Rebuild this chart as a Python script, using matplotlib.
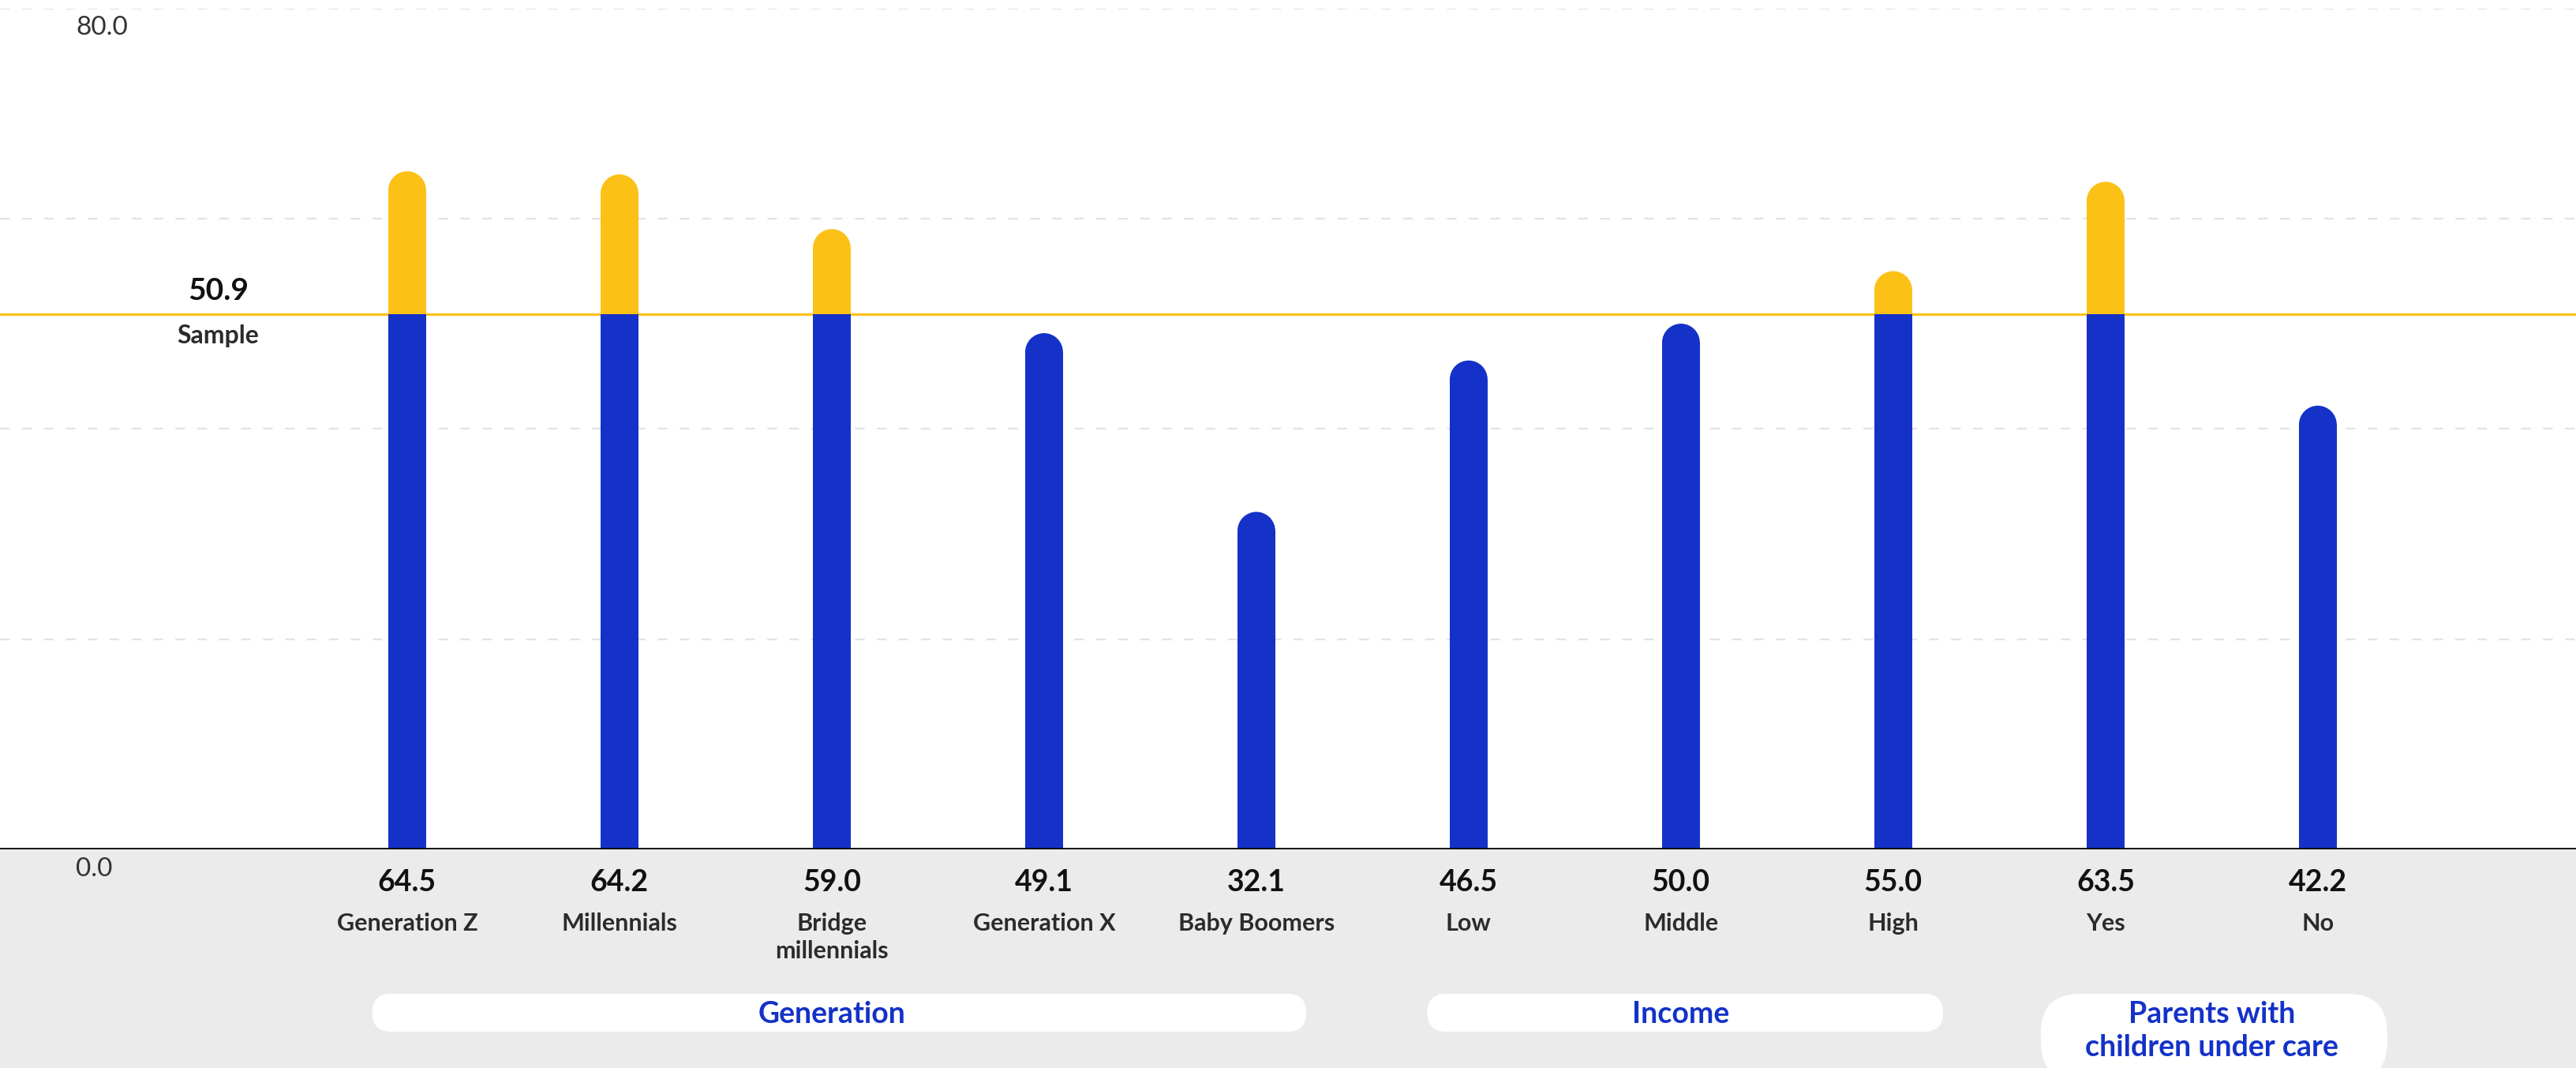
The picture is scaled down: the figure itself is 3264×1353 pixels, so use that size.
import numpy as np
import matplotlib
matplotlib.use("Agg")
import matplotlib.pyplot as plt
from matplotlib.patches import Ellipse, FancyBboxPatch, Rectangle

# Data
categories = ["Generation Z", "Millennials", "Bridge\nmillennials", "Generation X", "Baby Boomers",
              "Low", "Middle", "High", "Yes", "No"]
values = [64.5, 64.2, 59.0, 49.1, 32.1, 46.5, 50.0, 55.0, 63.5, 42.2]
sampleValue = 50.9
sampleLabel = "Sample"
groupNames = ["Generation", "Income", "Parents with\nchildren under care"]
groupFirst = [0, 5, 8]
groupLast = [4, 7, 9]
yTickValues = [0, 80]
gridValues = [20, 40, 60, 80]

# Style
blue = "#1432C8"
yellow = "#FCC117"
greyBg = "#EBEBEB"
fontName = "Lato"
W, H, dpi = 3264, 1353, 100

fig = plt.figure(figsize=(W / dpi, H / dpi), dpi=dpi)
axBottom = (H - 1076) / H
axTop = (H - 10.5) / H
ax = fig.add_axes([0, axBottom, 1, axTop - axBottom])
ax.set_xlim(-1.918, 10.216)
ax.set_ylim(0, 80)

# grey band under the plot
fig.patches.append(Rectangle((0, 0), 1, axBottom, transform=fig.transFigure,
                             facecolor=greyBg, edgecolor="none", zorder=0))

# Grid
for g in gridValues:
  ax.axhline(g, color="#E3E3E3", linewidth=1.6, dashes=(5.5, 7), zorder=0)

# Sample line
ax.axhline(sampleValue, color=yellow, linewidth=2.2, zorder=1)

# Bars with rounded tops
barWidth = 0.178
x = np.arange(len(values))
pxPerX = ax.transData.transform((1, 0))[0] - ax.transData.transform((0, 0))[0]
pxPerY = ax.transData.transform((0, 1))[1] - ax.transData.transform((0, 0))[1]
capH = barWidth / 2 * pxPerX / pxPerY
for i, v in enumerate(values):
  if v > sampleValue:
    ax.bar(x[i], sampleValue, barWidth, color=blue, zorder=2, linewidth=0)
    ax.bar(x[i], v - capH - sampleValue, barWidth, bottom=sampleValue, color=yellow, zorder=2, linewidth=0)
    capColor = yellow
  else:
    ax.bar(x[i], v - capH, barWidth, color=blue, zorder=2, linewidth=0)
    capColor = blue
  ax.add_patch(Ellipse((x[i], v - capH), barWidth, 2 * capH, facecolor=capColor, edgecolor="none", zorder=2))

# Axes cosmetics
for s in ["top", "left", "right"]:
  ax.spines[s].set_visible(False)
ax.spines["bottom"].set_color("black")
ax.spines["bottom"].set_linewidth(2.6)
ax.spines["bottom"].set_zorder(3)
ax.set_xticks([])
ax.set_yticks([])

def figY(pxFromTop):
  return 1 - pxFromTop / H

def figX(dataX):
  return ax.transData.transform((dataX, 0))[0] / W

# y labels (only 0 and 80)
for t in yTickValues:
  yPx = H - ax.transData.transform((0, t))[1]
  fig.text(96 / W, figY(yPx + 25), "%.1f" % t, ha="left", va="center",
           fontsize=24, family=fontName, weight="normal", color="#333333", zorder=5)

# Sample label
sampleX = -0.89
ax.annotate("%.1f" % sampleValue, xy=(sampleX, sampleValue), xytext=(0, 12), textcoords="offset pixels",
            ha="center", va="bottom", fontsize=28, family=fontName, weight="bold", color="#111111")
ax.annotate(sampleLabel, xy=(sampleX, sampleValue), xytext=(0, -13), textcoords="offset pixels",
            ha="center", va="top", fontsize=23, family=fontName, weight="bold", color="#2B2B2B")

# Value and category labels below the axis
for i, v in enumerate(values):
  fig.text(figX(x[i]), figY(1118), "%.1f" % v, ha="center", va="center",
           fontsize=27, family=fontName, weight="bold", color="#111111")
  fig.text(figX(x[i]), figY(1156), categories[i], ha="center", va="top", linespacing=1.3,
           fontsize=22, family=fontName, weight="bold", color="#2B2B2B")

# Group pills
pillLeftPad = [0.165, 0.195, 0.305]
pillRightPad = [0.235, 0.235, 0.327]
pillTop = [1259, 1259, 1259]
pillBottom = [1307, 1307, 1370]
for k, name in enumerate(groupNames):
  x0 = figX(groupFirst[k] - pillLeftPad[k]) * W / dpi
  x1 = figX(groupLast[k] + pillRightPad[k]) * W / dpi
  y0 = (H - pillBottom[k]) / dpi
  y1 = (H - pillTop[k]) / dpi
  r = min(0.24, (y1 - y0) / 2) if k < 2 else 0.5
  fig.patches.append(FancyBboxPatch((x0 + r, y0 + r), (x1 - x0) - 2 * r, (y1 - y0) - 2 * r,
                                    boxstyle="round,pad=%f,rounding_size=%f" % (r, r),
                                    transform=fig.dpi_scale_trans, facecolor="white",
                                    edgecolor="none", zorder=1))
  cx = figX((groupFirst[k] + groupLast[k]) / 2.0)
  cy = figY(1285) if k < 2 else figY(1306)
  fig.text(cx, cy, name, ha="center", va="center", linespacing=1.3,
           fontsize=27, family=fontName, weight="bold", color=blue, zorder=2)

plt.savefig("out.png", dpi=dpi, facecolor="white")
